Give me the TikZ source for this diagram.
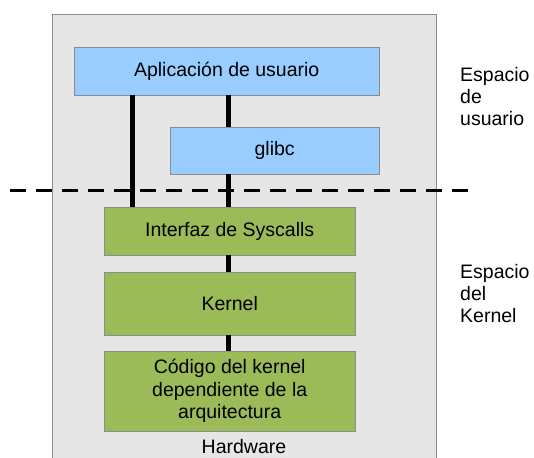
\documentclass[tikz,border=0pt]{standalone}
\usepackage{fontspec}
\setmainfont{Liberation Sans}
\usetikzlibrary{positioning}
\definecolor{userblue}{HTML}{99CCFF}
\definecolor{kerngreen}{HTML}{9BBB59}
\definecolor{bggray}{HTML}{E6E6E6}
\definecolor{edgegray}{HTML}{8C8C8C}

\begin{document}
\begin{tikzpicture}[x=1pt, y=-1pt,
    font=\fontsize{19.5}{22.5}\selectfont,
    layer/.style={draw=edgegray, anchor=north west, inner sep=0pt, align=center},
    ublock/.style={layer, fill=userblue},
    kblock/.style={layer, fill=kerngreen},
    bus/.style={line width=5pt},
    side/.style={anchor=base west, align=left, inner sep=0pt, font=\fontsize{19.5}{22}\selectfont}]
  \useasboundingbox (0,0) rectangle (534,457);
  % system box, open at the bottom
  \path[fill=bggray] (52,14) rectangle (436,460);
  \draw[edgegray] (52,460) -- (52,14) -- (436,14) -- (436,460);
  % user space
  \node[ublock, minimum width=305pt, minimum height=48pt] (app) at (74,47) {Aplicación de usuario};
  \node[ublock, minimum width=209pt, minimum height=47pt] (glibc) at (170,127) {glibc};
  % kernel space
  \node[kblock, minimum width=251pt, minimum height=48pt] (sys) at (104,207) {Interfaz de Syscalls};
  \node[kblock, minimum width=251pt, minimum height=63pt] (kern) at (104,272) {Kernel};
  \node[kblock, minimum width=251pt, minimum height=80pt] (arch) at (104,351) {Código del kernel\\dependiente de la\\arquitectura};
  \node[anchor=base] (hw) at (244,453) {Hardware};
  % links
  \draw[bus] ([xshift=-94.5pt]app.south) -- ([xshift=-97.5pt]sys.north);
  \draw[bus] ([xshift=1.5pt]app.south) -- ([xshift=-46.5pt]glibc.north);
  \draw[bus] ([xshift=-46.5pt]glibc.south) -- ([xshift=-1.5pt]sys.north);
  \draw[bus] ([xshift=-1.5pt]sys.south) -- ([xshift=-1.5pt]kern.north);
  \draw[bus] ([xshift=-1.5pt]kern.south) -- ([xshift=-1.5pt]arch.north);
  % boundary
  \coordinate (cutL) at (10,190);
  \coordinate (cutR) at (472,190);
  \draw[line width=3pt, dash pattern=on 16pt off 10pt] (cutL) -- (cutR);
  \node[side] (uspace) at (460,126) {Espacio\\de\\usuario};
  \node[side] (kspace) at (460,322) {Espacio\\del\\Kernel};
\end{tikzpicture}
\end{document}
